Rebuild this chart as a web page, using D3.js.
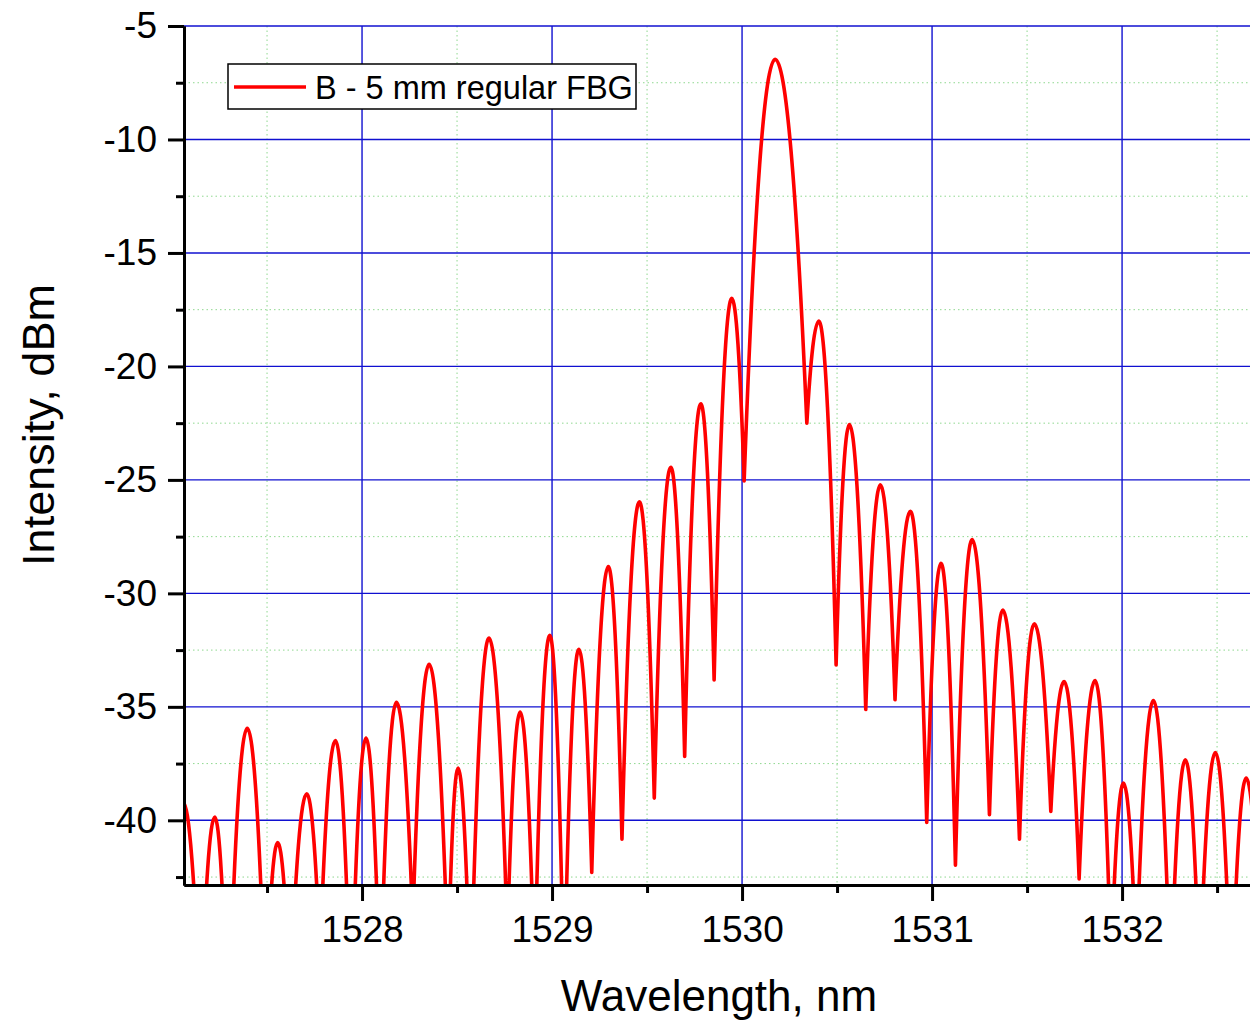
<!DOCTYPE html>
<html><head><meta charset="utf-8">
<script src="https://cdn.jsdelivr.net/npm/d3@7"></script>
<style>
body{margin:0;background:#fff}
svg{display:block}
text{font-family:"Liberation Sans",Arial,sans-serif;fill:#000}
</style>
</head><body>
<svg id="chart" width="1250" height="1023"></svg>
<script>
// Spectrum: alternating lobe maxima and minima (nm, dBm)
const wavelength = [
  1527.058, 1527.150, 1527.225, 1527.295, 1527.396, 1527.492, 1527.556, 1527.621,
  1527.709, 1527.779, 1527.860, 1527.942, 1528.021, 1528.095, 1528.181, 1528.267,
  1528.353, 1528.453, 1528.505, 1528.571, 1528.668, 1528.765, 1528.832, 1528.908,
  1528.988, 1529.063, 1529.141, 1529.209, 1529.296, 1529.368, 1529.460, 1529.538,
  1529.625, 1529.698, 1529.783, 1529.853, 1529.946, 1530.011, 1530.174, 1530.341,
  1530.404, 1530.495, 1530.565, 1530.651, 1530.728, 1530.805, 1530.886, 1530.972,
  1531.047, 1531.123, 1531.211, 1531.302, 1531.372, 1531.460, 1531.538, 1531.625,
  1531.695, 1531.774, 1531.858, 1531.942, 1532.007, 1532.075, 1532.165, 1532.255,
  1532.333, 1532.408, 1532.491, 1532.575, 1532.653, 1532.737
];
const intensity = [
  -39.20, -49.0, -39.86, -50.0, -35.94, -48.5, -40.98, -48.0,
  -38.83, -46.0, -36.48, -49.0, -36.38, -48.0, -34.80, -44.5,
  -33.12, -46.5, -37.70, -48.0, -31.97, -45.2, -35.23, -47.0,
  -31.85, -47.8, -32.46, -42.30, -28.82, -40.83, -25.97, -39.02,
  -24.44, -37.19, -21.65, -33.81, -17.00, -25.05, -6.47, -22.50,
  -18.00, -33.15, -22.56, -35.12, -25.22, -34.69, -26.38, -40.09,
  -28.67, -41.98, -27.63, -39.75, -30.73, -40.83, -31.34, -39.61,
  -33.88, -42.58, -33.84, -46.5, -38.36, -46.3, -34.72, -47.7,
  -37.33, -47.3, -37.01, -48.4, -38.14, -48.0
];
const xMajorTicks = [1528, 1529, 1530, 1531, 1532];
const xMinorTicks = [1527.5, 1528.5, 1529.5, 1530.5, 1531.5, 1532.5];
const yMajorTicks = [-5, -10, -15, -20, -25, -30, -35, -40];
const yMinorTicks = [-7.5, -12.5, -17.5, -22.5, -27.5, -32.5, -37.5, -42.5];
const xTitle = "Wavelength, nm";
const yTitle = "Intensity, dBm";
const seriesName = "B - 5 mm regular FBG";

(function () {
const data = wavelength.map((w, i) => ({w, v: intensity[i]}));

const svg = d3.select("#chart");
const pL = 184, pT = 26, pB = 885, pR = 1268;
const x = d3.scaleLinear().domain([1527.063, 1532.768]).range([pL, pR]);
const y = d3.scaleLinear().domain([-42.85, -5]).range([pB, pT]);

// minor grid (green dotted)
const grid = svg.append("g");
grid.selectAll("line.vmin").data(xMinorTicks).join("line")
  .attr("x1", d => x(d)).attr("x2", d => x(d)).attr("y1", pT).attr("y2", pB)
  .attr("stroke", "#8fd88f").attr("stroke-width", 1).attr("stroke-dasharray", "1.5 3");
grid.selectAll("line.hmin").data(yMinorTicks).join("line")
  .attr("x1", pL).attr("x2", 1250).attr("y1", d => y(d)).attr("y2", d => y(d))
  .attr("stroke", "#8fd88f").attr("stroke-width", 1).attr("stroke-dasharray", "1.5 3");
// major grid (blue)
grid.selectAll("line.vmaj").data(xMajorTicks).join("line")
  .attr("x1", d => x(d)).attr("x2", d => x(d)).attr("y1", pT).attr("y2", pB)
  .attr("stroke", "#1010d0").attr("stroke-width", 1.4);
grid.selectAll("line.hmaj").data(yMajorTicks).join("line")
  .attr("x1", pL).attr("x2", 1250).attr("y1", d => y(d)).attr("y2", d => y(d))
  .attr("stroke", "#1010d0").attr("stroke-width", 1.4);

// curve: parabolic arch between successive extrema
function curveArch(context) {
  let x0, y0, started = false;
  return {
    areaStart() {}, areaEnd() {},
    lineStart() { started = false; },
    lineEnd() {},
    point(px, py) {
      px = +px; py = +py;
      if (!started) { context.moveTo(px, py); started = true; }
      else { context.quadraticCurveTo((x0 + px) / 2, Math.min(y0, py), px, py); }
      x0 = px; y0 = py;
    }
  };
}

svg.append("clipPath").attr("id", "plotclip").append("rect")
  .attr("x", pL).attr("y", pT - 10).attr("width", 1250 - pL).attr("height", pB - pT + 10);

const line = d3.line().x(d => x(d.w)).y(d => y(d.v)).curve(curveArch);
svg.append("path").datum(data)
  .attr("clip-path", "url(#plotclip)")
  .attr("d", line).attr("fill", "none")
  .attr("stroke", "#ff0000").attr("stroke-width", 3.6).attr("stroke-linejoin", "round");

// axes
const fs = 37;
const xAxisMinor = d3.axisBottom(x).tickValues(xMinorTicks).tickSize(8).tickSizeOuter(0).tickFormat("");
const xAxis = d3.axisBottom(x).tickValues(xMajorTicks).tickSize(16).tickSizeOuter(0).tickPadding(15).tickFormat(d3.format("d"));
const yAxisMinor = d3.axisLeft(y).tickValues(yMinorTicks).tickSize(8).tickSizeOuter(0).tickFormat("");
const yAxis = d3.axisLeft(y).tickValues(yMajorTicks).tickSize(16).tickSizeOuter(0).tickPadding(11).tickFormat(d => String(d).replace("\u2212", "-"));

function styleAxis(g) {
  g.selectAll("path.domain").attr("stroke", "#000").attr("stroke-width", 3);
  g.selectAll(".tick line").attr("stroke", "#000").attr("stroke-width", 3);
  g.selectAll(".tick text").attr("font-size", fs).attr("font-family", "Liberation Sans, Arial, sans-serif").attr("fill", "#000");
}
svg.append("g").attr("transform", `translate(0,${pB})`).call(xAxisMinor).call(styleAxis);
svg.append("g").attr("transform", `translate(0,${pB})`).call(xAxis).call(styleAxis);
svg.append("g").attr("transform", `translate(${pL},0)`).call(yAxisMinor).call(styleAxis);
svg.append("g").attr("transform", `translate(${pL},0)`).call(yAxis).call(styleAxis);

// axis titles
svg.append("text").attr("x", 719).attr("y", 1011).attr("text-anchor", "middle")
  .attr("font-size", 44).text(xTitle);
svg.append("text").attr("transform", "translate(54,425) rotate(-90)").attr("text-anchor", "middle")
  .attr("font-size", 45).text(yTitle);

// legend
const lg = svg.append("g");
lg.append("rect").attr("x", 228).attr("y", 64).attr("width", 408).attr("height", 45)
  .attr("fill", "#fff").attr("stroke", "#000").attr("stroke-width", 1.5);
lg.append("line").attr("x1", 234).attr("x2", 306).attr("y1", 87).attr("y2", 87)
  .attr("stroke", "#ff0000").attr("stroke-width", 3.6);
lg.append("text").attr("x", 315).attr("y", 99).attr("font-size", 32.5).text(seriesName);
})();
</script>
</body></html>
